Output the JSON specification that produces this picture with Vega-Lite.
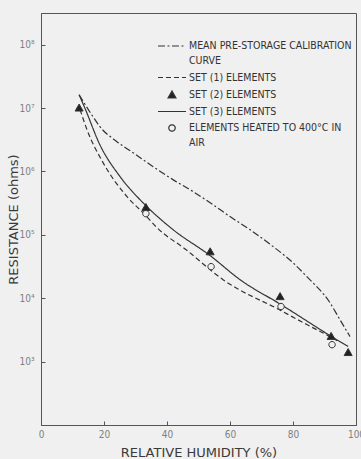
{
  "$schema": "https://vega.github.io/schema/vega-lite/v6.json",
  "width": 315,
  "height": 412,
  "autosize": {"type": "none"},
  "padding": {"left": 41, "top": 13, "right": 5, "bottom": 34},
  "background": "#f0f0f0",
  "config": {
    "view": {"stroke": "#555", "strokeWidth": 1},
    "axis": {
      "grid": false,
      "domainColor": "#555",
      "tickColor": "#555",
      "tickSize": -4,
      "labelColor": "#808080",
      "labelFont": "DejaVu Sans Condensed",
      "labelFontSize": 10,
      "labelFlush": false,
      "titleFont": "DejaVu Sans",
      "titleFontWeight": "normal",
      "titleColor": "#3a3a3a",
      "titleFontSize": 13
    },
    "legend": {
      "orient": "none",
      "legendX": 125,
      "legendY": 27,
      "labelFont": "DejaVu Sans Condensed",
      "labelFontSize": 10.5,
      "labelColor": "#333",
      "labelLimit": 400,
      "labelOffset": 11,
      "labelBaseline": "top",
      "rowPadding": 4.5,
      "symbolSize": 100,
      "symbolStrokeColor": "#333",
      "symbolStrokeWidth": 1.2
    }
  },
  "datasets": {
    "curves": [
      {"series": "MEAN PRE-STORAGE CALIBRATION CURVE", "rh": 12.1, "r": 16200000},
      {"series": "MEAN PRE-STORAGE CALIBRATION CURVE", "rh": 16.5, "r": 7310000},
      {"series": "MEAN PRE-STORAGE CALIBRATION CURVE", "rh": 18.7, "r": 5090000},
      {"series": "MEAN PRE-STORAGE CALIBRATION CURVE", "rh": 24.1, "r": 2950000},
      {"series": "MEAN PRE-STORAGE CALIBRATION CURVE", "rh": 29.2, "r": 1980000},
      {"series": "MEAN PRE-STORAGE CALIBRATION CURVE", "rh": 35.6, "r": 1190000},
      {"series": "MEAN PRE-STORAGE CALIBRATION CURVE", "rh": 41.9, "r": 743000},
      {"series": "MEAN PRE-STORAGE CALIBRATION CURVE", "rh": 48.3, "r": 480000},
      {"series": "MEAN PRE-STORAGE CALIBRATION CURVE", "rh": 54.6, "r": 299000},
      {"series": "MEAN PRE-STORAGE CALIBRATION CURVE", "rh": 60.0, "r": 194000},
      {"series": "MEAN PRE-STORAGE CALIBRATION CURVE", "rh": 66.3, "r": 121000},
      {"series": "MEAN PRE-STORAGE CALIBRATION CURVE", "rh": 73.7, "r": 65200},
      {"series": "MEAN PRE-STORAGE CALIBRATION CURVE", "rh": 80.0, "r": 36300},
      {"series": "MEAN PRE-STORAGE CALIBRATION CURVE", "rh": 84.4, "r": 21900},
      {"series": "MEAN PRE-STORAGE CALIBRATION CURVE", "rh": 91.7, "r": 8530},
      {"series": "MEAN PRE-STORAGE CALIBRATION CURVE", "rh": 94.9, "r": 4590},
      {"series": "MEAN PRE-STORAGE CALIBRATION CURVE", "rh": 98.1, "r": 2480},
      {"series": "SET (1) ELEMENTS", "rh": 12.4, "r": 9440000},
      {"series": "SET (1) ELEMENTS", "rh": 14.6, "r": 4560000},
      {"series": "SET (1) ELEMENTS", "rh": 19.7, "r": 1380000},
      {"series": "SET (1) ELEMENTS", "rh": 27.3, "r": 401000},
      {"series": "SET (1) ELEMENTS", "rh": 33.0, "r": 208000},
      {"series": "SET (1) ELEMENTS", "rh": 36.8, "r": 130000},
      {"series": "SET (1) ELEMENTS", "rh": 46.0, "r": 58500},
      {"series": "SET (1) ELEMENTS", "rh": 57.8, "r": 19600},
      {"series": "SET (1) ELEMENTS", "rh": 76.2, "r": 6370},
      {"series": "SET (1) ELEMENTS", "rh": 84.4, "r": 3840},
      {"series": "SET (1) ELEMENTS", "rh": 91.7, "r": 2480},
      {"series": "SET (1) ELEMENTS", "rh": 94.0, "r": 2140},
      {"series": "SET (3) ELEMENTS", "rh": 12.1, "r": 16200000},
      {"series": "SET (3) ELEMENTS", "rh": 14.0, "r": 9800000},
      {"series": "SET (3) ELEMENTS", "rh": 18.7, "r": 2630000},
      {"series": "SET (3) ELEMENTS", "rh": 25.1, "r": 828000},
      {"series": "SET (3) ELEMENTS", "rh": 33.0, "r": 299000},
      {"series": "SET (3) ELEMENTS", "rh": 41.9, "r": 121000},
      {"series": "SET (3) ELEMENTS", "rh": 53.7, "r": 47000},
      {"series": "SET (3) ELEMENTS", "rh": 63.2, "r": 19600},
      {"series": "SET (3) ELEMENTS", "rh": 76.2, "r": 7930},
      {"series": "SET (3) ELEMENTS", "rh": 92.1, "r": 2510},
      {"series": "SET (3) ELEMENTS", "rh": 97.5, "r": 1730}
    ],
    "points": [
      {"series": "SET (2) ELEMENTS", "rh": 12.1, "r": 10000000},
      {"series": "SET (2) ELEMENTS", "rh": 33.3, "r": 270000},
      {"series": "SET (2) ELEMENTS", "rh": 53.7, "r": 54000},
      {"series": "SET (2) ELEMENTS", "rh": 75.9, "r": 10600},
      {"series": "SET (2) ELEMENTS", "rh": 92.1, "r": 2500},
      {"series": "SET (2) ELEMENTS", "rh": 97.5, "r": 1390},
      {"series": "ELEMENTS HEATED TO 400°C IN AIR", "rh": 33.3, "r": 216000},
      {"series": "ELEMENTS HEATED TO 400°C IN AIR", "rh": 54.0, "r": 31500},
      {"series": "ELEMENTS HEATED TO 400°C IN AIR", "rh": 76.2, "r": 7400},
      {"series": "ELEMENTS HEATED TO 400°C IN AIR", "rh": 92.4, "r": 1850}
    ]
  },
  "encoding": {
    "x": {
      "field": "rh",
      "type": "quantitative",
      "scale": {"domain": [0, 100], "nice": false, "zero": false},
      "axis": {"values": [0, 20, 40, 60, 80, 100], "title": "RELATIVE HUMIDITY (%)", "labelPadding": 8, "titlePadding": 7}
    },
    "y": {
      "field": "r",
      "type": "quantitative",
      "scale": {"type": "log", "domain": [100, 316000000], "nice": false},
      "axis": {
        "values": [1000, 10000, 100000, 1000000, 10000000, 100000000],
        "labelExpr": "'10' + ['⁰','¹','²','³','⁴','⁵','⁶','⁷','⁸','⁹'][round(log(datum.value)/LN10)]",
        "title": "RESISTANCE (ohms)",
        "labelPadding": 11,
        "titlePadding": -2
      }
    }
  },
  "layer": [
    {
      "data": {"name": "curves"},
      "mark": {"type": "line", "interpolate": "monotone", "strokeWidth": 1.2},
      "encoding": {
        "stroke": {
          "field": "series",
          "type": "nominal",
          "scale": {
            "domain": ["MEAN PRE-STORAGE CALIBRATION CURVE", "SET (1) ELEMENTS", "SET (2) ELEMENTS", "SET (3) ELEMENTS", "ELEMENTS HEATED TO 400°C IN AIR"],
            "range": ["#333", "#333", "#333", "#333", "#333"]
          },
          "legend": {
            "title": null,
            "labelExpr": "datum.label == 'MEAN PRE-STORAGE CALIBRATION CURVE' ? ['MEAN PRE-STORAGE CALIBRATION', 'CURVE'] : datum.label == 'ELEMENTS HEATED TO 400°C IN AIR' ? ['ELEMENTS HEATED TO 400°C IN', 'AIR'] : datum.label",
            "encode": {
              "labels": {"update": {"dy": {"value": -5}, "lineHeight": {"value": 15}}, "dy": {"value": -5}, "lineHeight": {"value": 15}}
            }
          }
        },
        "strokeDash": {
          "field": "series",
          "type": "nominal",
          "scale": {
            "domain": ["MEAN PRE-STORAGE CALIBRATION CURVE", "SET (1) ELEMENTS", "SET (2) ELEMENTS", "SET (3) ELEMENTS", "ELEMENTS HEATED TO 400°C IN AIR"],
            "range": [[7, 2.5, 2, 2.5], [5, 3], [1, 0], [1, 0], [1, 0]]
          },
          "legend": {"title": null}
        }
      }
    },
    {
      "data": {"name": "points"},
      "mark": {"type": "point", "filled": true, "strokeWidth": 1, "opacity": 1, "size": 100},
      "encoding": {
        "shape": {
          "field": "series",
          "type": "nominal",
          "scale": {
            "domain": ["MEAN PRE-STORAGE CALIBRATION CURVE", "SET (1) ELEMENTS", "SET (2) ELEMENTS", "SET (3) ELEMENTS", "ELEMENTS HEATED TO 400°C IN AIR"],
            "range": ["M-2.8,0L2.8,0", "M-2.8,0L2.8,0", "M0,-0.8L0.8,0.6L-0.8,0.6Z", "M-2.8,0L2.8,0", "M0.64,0A0.64,0.64,0,1,1,-0.64,0A0.64,0.64,0,1,1,0.64,0Z"]
          },
          "legend": {"title": null}
        },
        "fill": {
          "field": "series",
          "type": "nominal",
          "scale": {
            "domain": ["MEAN PRE-STORAGE CALIBRATION CURVE", "SET (1) ELEMENTS", "SET (2) ELEMENTS", "SET (3) ELEMENTS", "ELEMENTS HEATED TO 400°C IN AIR"],
            "range": ["transparent", "transparent", "#222", "transparent", "#f0f0f0"]
          },
          "legend": {"title": null}
        },
        "stroke": {
          "field": "series",
          "type": "nominal",
          "scale": {
            "domain": ["MEAN PRE-STORAGE CALIBRATION CURVE", "SET (1) ELEMENTS", "SET (2) ELEMENTS", "SET (3) ELEMENTS", "ELEMENTS HEATED TO 400°C IN AIR"],
            "range": ["#333", "#333", "#333", "#333", "#333"]
          },
          "legend": {"title": null}
        }
      }
    }
  ]
}
